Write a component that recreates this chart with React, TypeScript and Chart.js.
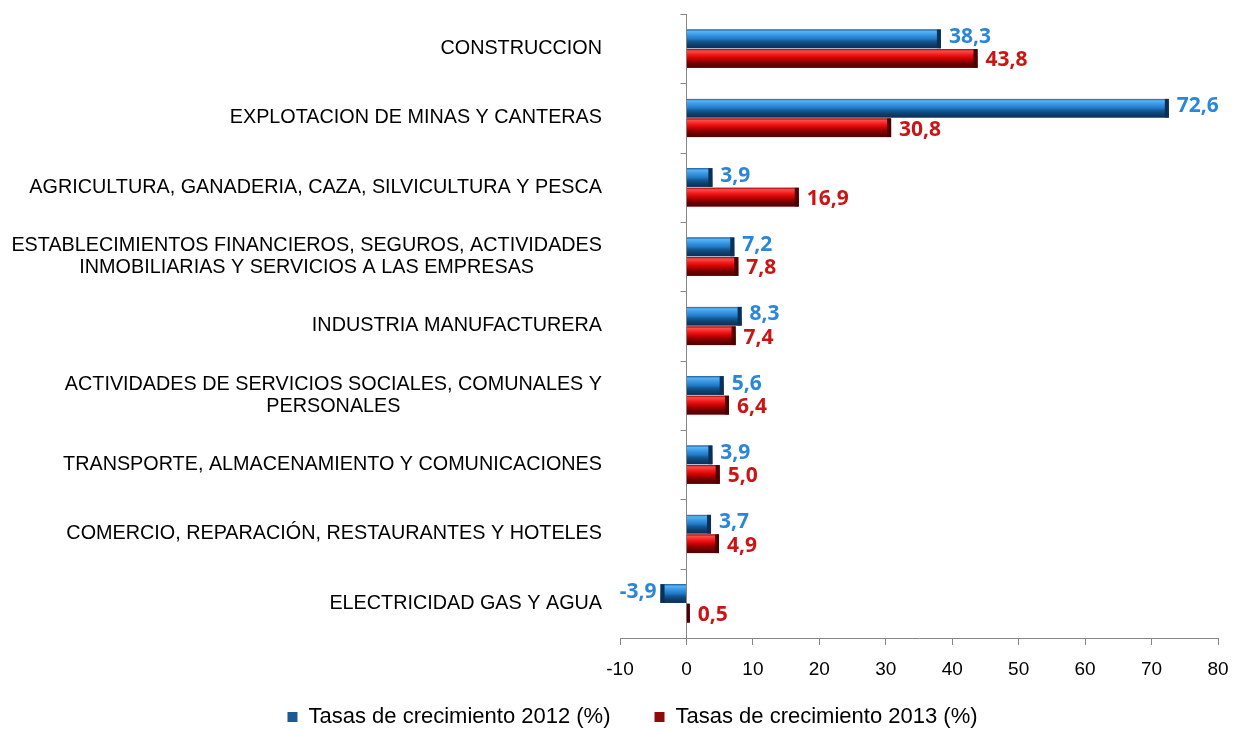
import { useEffect, useRef } from 'react';
import { Chart, registerables } from 'chart.js';

Chart.register(...registerables);

const categories: string[][] = [
  ['CONSTRUCCION'],
  ['EXPLOTACION DE MINAS Y CANTERAS'],
  ['AGRICULTURA, GANADERIA, CAZA, SILVICULTURA Y PESCA'],
  ['ESTABLECIMIENTOS FINANCIEROS, SEGUROS, ACTIVIDADES', 'INMOBILIARIAS Y SERVICIOS A LAS EMPRESAS'],
  ['INDUSTRIA MANUFACTURERA'],
  ['ACTIVIDADES DE SERVICIOS SOCIALES, COMUNALES Y', 'PERSONALES'],
  ['TRANSPORTE, ALMACENAMIENTO Y COMUNICACIONES'],
  ['COMERCIO, REPARACIÓN, RESTAURANTES Y HOTELES'],
  ['ELECTRICIDAD GAS Y AGUA'],
];

const series2012 = [38.3, 72.6, 3.9, 7.2, 8.3, 5.6, 3.9, 3.7, -3.9];
const series2013 = [43.8, 30.8, 16.9, 7.8, 7.4, 6.4, 5.0, 4.9, 0.5];

const seriesNames = ['Tasas de crecimiento 2012 (%)', 'Tasas de crecimiento 2013 (%)'];

const xMin = -10;
const xMax = 80;
const xStep = 10;

const palettes = [
  {
    solid: '#1c5a94',
    label: '#2a86d8',
    cap: '#0c2f55',
    stops: [
      [0, '#1d5f9e'],
      [0.1, '#5ab2f2'],
      [0.3, '#3696e2'],
      [0.5, '#2079c6'],
      [0.62, '#155a96'],
      [0.8, '#0f406f'],
      [1, '#0b2f55'],
    ] as [number, string][],
  },
  {
    solid: '#8e0b0b',
    label: '#cc1414',
    cap: '#4a0000',
    stops: [
      [0, '#9a0a0a'],
      [0.1, '#ff4a4a'],
      [0.3, '#f01a1a'],
      [0.5, '#d00000'],
      [0.62, '#9a0000'],
      [0.8, '#6e0000'],
      [1, '#520000'],
    ] as [number, string][],
  },
];

const fmt = (v: number) => v.toFixed(1).replace('.', ',');

export default function App() {
  const ref = useRef<HTMLCanvasElement>(null);

  useEffect(() => {
    document.body.style.margin = '0';
    const canvas = ref.current;
    if (!canvas) return;

    const bevelPlugin = {
      id: 'bevelBars',
      afterDatasetsDraw(chart: any) {
        const c = chart.ctx as CanvasRenderingContext2D;
        chart.data.datasets.forEach((ds: any, di: number) => {
          const meta = chart.getDatasetMeta(di);
          const pal = palettes[di];
          meta.data.forEach((el: any, i: number) => {
            const { x, y, base, height } = el.getProps(['x', 'y', 'base', 'height'], true);
            const left = Math.min(x, base);
            const right = Math.max(x, base);
            const top = y - height / 2;
            const w = right - left;
            c.save();
            const g = c.createLinearGradient(0, top, 0, top + height);
            pal.stops.forEach(([o, col]) => g.addColorStop(o, col));
            c.fillStyle = g;
            c.fillRect(left, top, w, height);
            const cap = Math.min(4, w);
            const positive = x >= base;
            c.fillStyle = pal.cap;
            c.fillRect(positive ? right - cap : left, top, cap, height);
            c.restore();

            const v = ds.data[i] as number;
            c.save();
            c.font = 'bold 21px "Open Sans", "DejaVu Sans", sans-serif';
            c.fillStyle = pal.label;
            c.textBaseline = 'middle';
            if (v >= 0) {
              c.textAlign = 'left';
              c.fillText(fmt(v), x + 8, y + (di === 0 ? -2 : 2));
            } else {
              c.textAlign = 'right';
              c.fillText(fmt(v), x - 4, y + (di === 0 ? -2 : 2));
            }
            c.restore();
          });
        });
      },
    };

    const yLabelPlugin = {
      id: 'yLabels',
      afterDraw(chart: any) {
        const ys = chart.scales.y;
        const xs = chart.scales.x;
        const area = chart.chartArea;
        const c = chart.ctx as CanvasRenderingContext2D;
        c.save();
        c.font = '19.8px "Liberation Sans", Arial, sans-serif';
        c.fillStyle = '#000';
        c.textBaseline = 'middle';
        c.textAlign = 'center';
        const lh = 22;
        categories.forEach((lines, i) => {
          const cy = ys.getPixelForValue(i);
          const wMax = Math.max(...lines.map((l) => c.measureText(l).width));
          const cx = area.left - 18 - wMax / 2;
          lines.forEach((l, k) => {
            c.fillText(l, cx, cy + (k - (lines.length - 1) / 2) * lh);
          });
        });
        const x0 = Math.round(xs.getPixelForValue(0)) + 0.5;
        c.strokeStyle = '#868686';
        c.lineWidth = 1;
        for (let i = 0; i <= categories.length; i++) {
          const py = Math.round(ys.getPixelForValue(i - 0.5)) + 0.5;
          c.beginPath();
          c.moveTo(x0 - 6, py);
          c.lineTo(x0, py);
          c.stroke();
        }
        c.restore();
      },
    };

    const chart = new Chart(canvas, {
      type: 'bar',
      data: {
        labels: categories,
        datasets: [
          {
            label: seriesNames[0],
            data: series2012,
            backgroundColor: palettes[0].solid,
            borderWidth: 0,
            categoryPercentage: 0.565,
            barPercentage: 0.95,
          },
          {
            label: seriesNames[1],
            data: series2013,
            backgroundColor: palettes[1].solid,
            borderWidth: 0,
            categoryPercentage: 0.565,
            barPercentage: 0.95,
          },
        ],
      },
      options: {
        indexAxis: 'y',
        responsive: false,
        animation: false,
        devicePixelRatio: 1,
        layout: { padding: { left: 47, right: 24, top: 14, bottom: 0 } },
        scales: {
          x: {
            min: xMin,
            max: xMax,
            ticks: {
              stepSize: xStep,
              color: '#000',
              padding: 13,
              font: { family: '"Liberation Sans", Arial, sans-serif', size: 19 },
            },
            grid: {
              color: (ctx: any) => (ctx.tick && ctx.tick.value === 0 ? '#868686' : 'rgba(0,0,0,0)'),
              tickColor: '#868686',
              tickLength: 7,
              drawTicks: true,
            },
            border: { display: true, color: '#868686' },
            afterFit: (scale: any) => {
              scale.height = 24;
              scale._computeLabelArea = () => undefined;
            },
          },
          y: {
            ticks: { display: false },
            grid: { display: false, drawTicks: false },
            border: { display: false },
            afterFit: (scale: any) => {
              scale.width = 573;
            },
          },
        },
        plugins: {
          tooltip: { enabled: false },
          legend: {
            position: 'bottom',
            maxHeight: 68,
            labels: {
              color: '#000',
              boxWidth: 10,
              boxHeight: 10,
              padding: 44,
              font: { family: '"Liberation Sans", Arial, sans-serif', size: 22 },
            },
          },
        },
      } as any,
      plugins: [bevelPlugin, yLabelPlugin],
    });

    return () => chart.destroy();
  }, []);

  return <canvas ref={ref} width={1242} height={730} style={{ display: 'block' }} />;
}
